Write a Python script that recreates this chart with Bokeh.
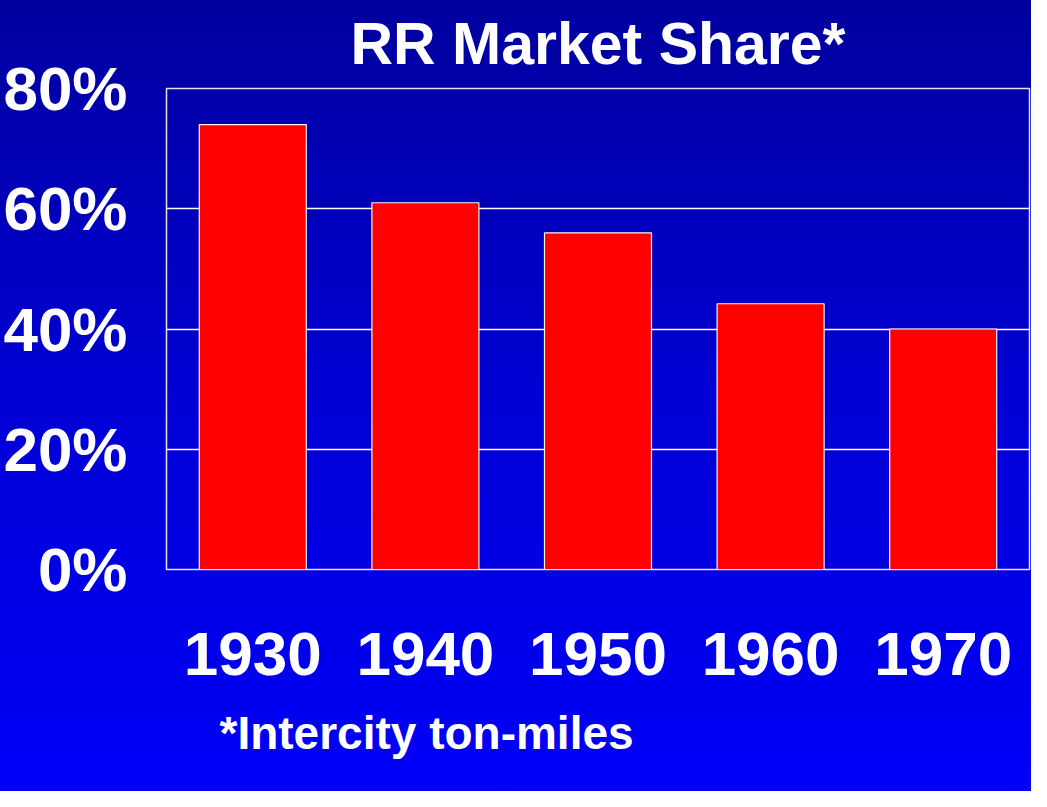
from bokeh.plotting import figure
from bokeh.models import FactorRange, Range1d, FixedTicker, Title
from bokeh.embed import file_html
from bokeh.resources import INLINE

# ---- data ----
years = ["1930", "1940", "1950", "1960", "1970"]
share = [74, 61, 56, 44.2, 40]
y_ticks = [0, 20, 40, 60, 80]
y_tick_labels = ["0%", "20%", "40%", "60%", "80%"]
title_text = "RR Market Share*"
footnote_text = "*Intercity ton-miles"

FONT = "Liberation Sans"

p = figure(
    x_range=FactorRange(factors=years, range_padding=0),
    y_range=Range1d(0, 80),
    width=1031, height=791,
    output_backend="svg", toolbar_location=None,
    min_border_left=166, min_border_right=2,
    min_border_top=88, min_border_bottom=222,
)
p.styles = {"background": "linear-gradient(to bottom, #00009e 0%, #0000d4 50%, #0000f8 100%)"}
p.border_fill_alpha = 0
p.background_fill_alpha = 0
p.outline_line_color = "#e4e4ee"
p.outline_line_width = 1.5

p.vbar(x=years, top=share, width=0.62, fill_color="#ff0000",
       line_color="#f4f4f4", line_width=1.2)

# grid
p.xgrid.visible = False
p.ygrid.ticker = FixedTicker(ticks=y_ticks[1:-1])
p.ygrid.grid_line_color = "white"
p.ygrid.grid_line_width = 1.3

# y axis
p.yaxis.ticker = FixedTicker(ticks=y_ticks)
p.yaxis.major_label_overrides = {t: l for t, l in zip(y_ticks, y_tick_labels)}
p.yaxis.axis_line_color = None
p.yaxis.major_tick_line_color = None
p.yaxis.minor_tick_line_color = None
p.yaxis.major_label_standoff = 33
p.yaxis.major_label_text_font = FONT
p.yaxis.major_label_text_font_style = "bold"
p.yaxis.major_label_text_font_size = "62px"
p.yaxis.major_label_text_color = "white"

# x axis
p.xaxis.axis_line_color = None
p.xaxis.major_tick_line_color = None
p.xaxis.minor_tick_line_color = None
p.xaxis.major_label_standoff = 57
p.xaxis.major_label_text_font = FONT
p.xaxis.major_label_text_font_style = "bold"
p.xaxis.major_label_text_font_size = "62px"
p.xaxis.major_label_text_color = "white"

# title
p.title.text = title_text
p.title.align = "center"
p.title.vertical_align = "top"
p.title.text_font = FONT
p.title.text_font_style = "bold"
p.title.text_font_size = "59px"
p.title.text_color = "white"
p.title.standoff = 20

# footnote
p.add_layout(Title(text=footnote_text, align="left", offset=53, standoff=59,
                   vertical_align="top",
                   text_font=FONT, text_font_style="bold",
                   text_font_size="46px", text_color="white"), "below")

open("out.html", "w").write(file_html(p, INLINE))
